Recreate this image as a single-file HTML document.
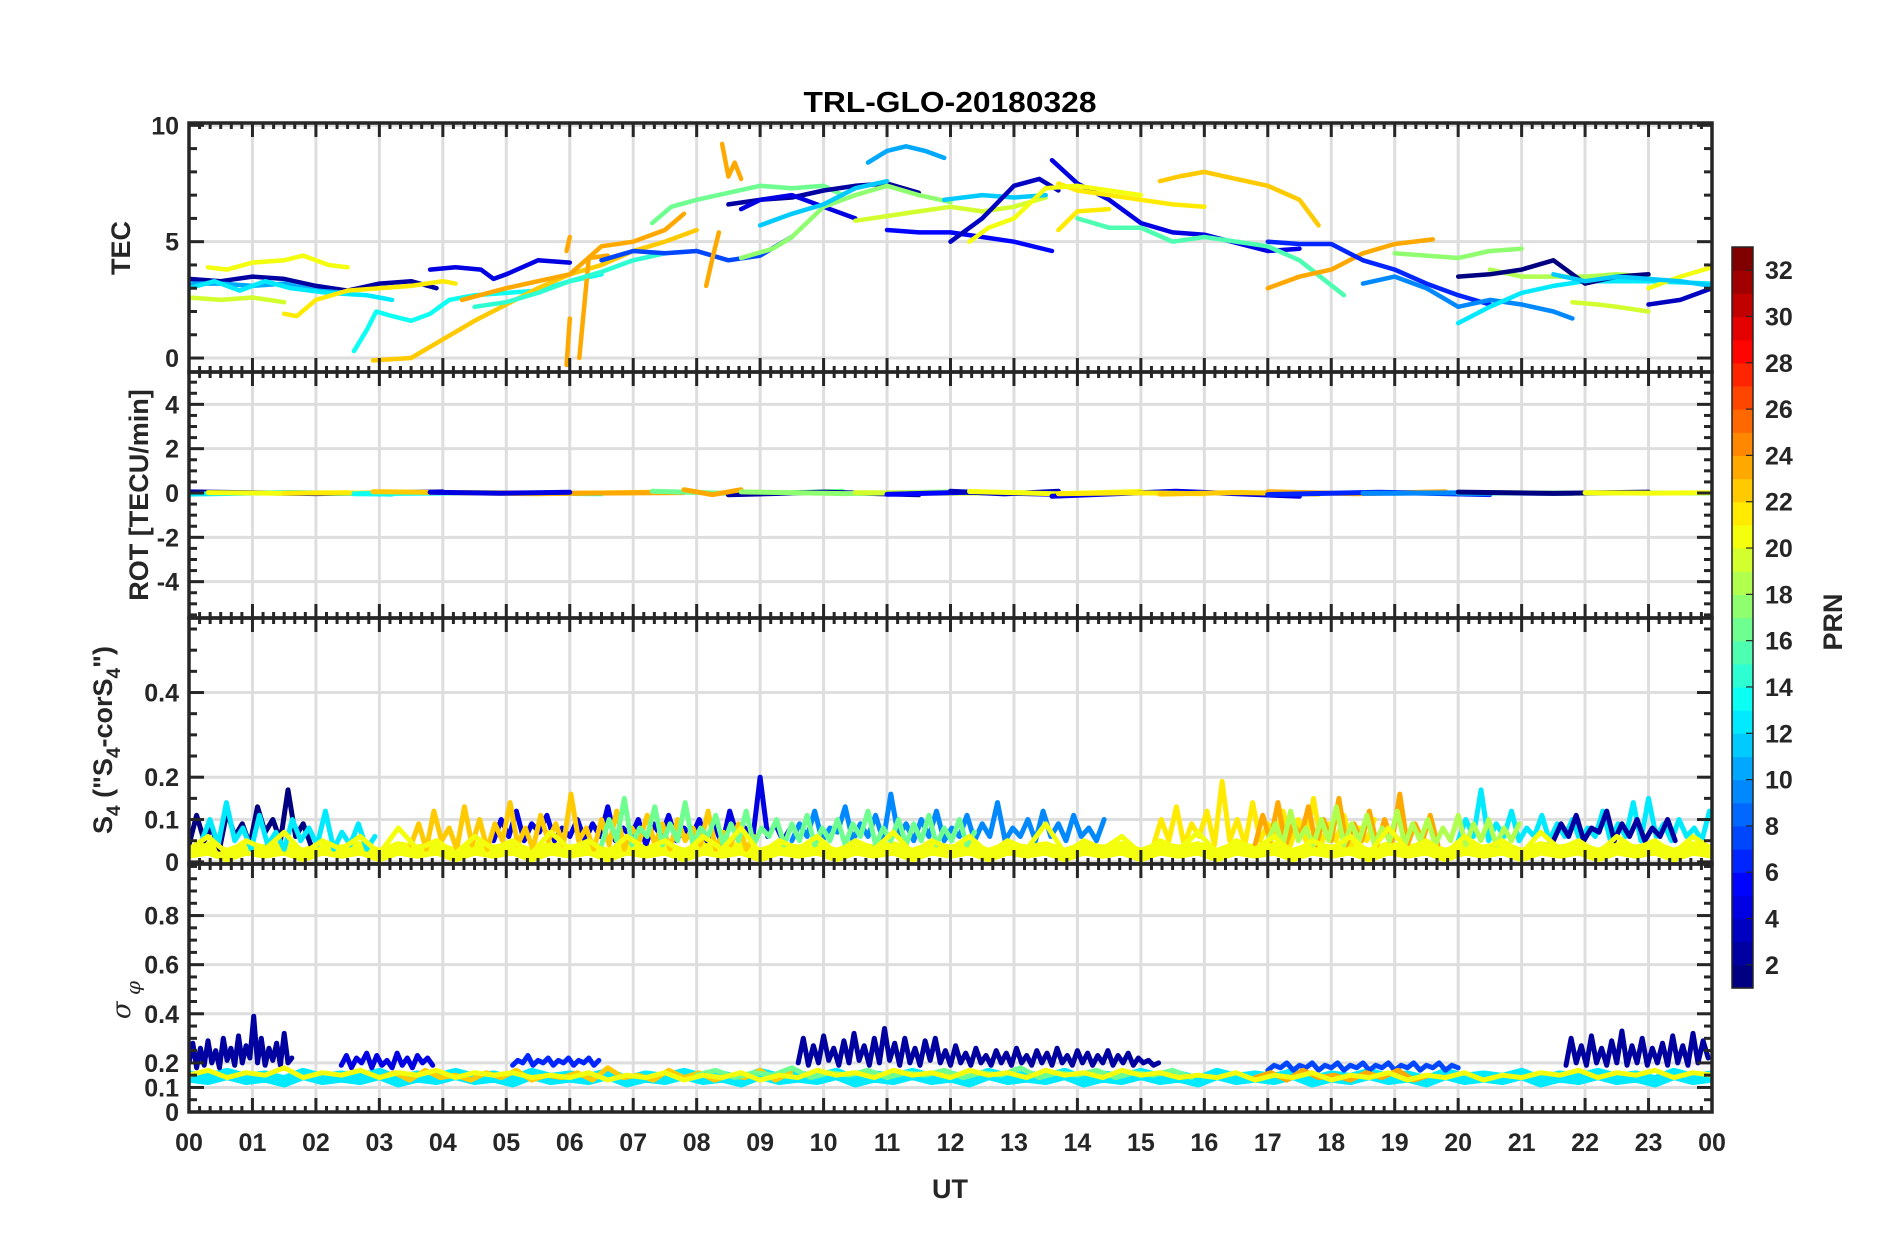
<!DOCTYPE html>
<html><head><meta charset="utf-8"><title>TRL-GLO-20180328</title>
<style>
html,body{margin:0;padding:0;background:#fff;}
svg{display:block;font-family:"Liberation Sans",Arial,sans-serif;}
</style></head>
<body>
<svg id="chart" width="1902" height="1236" viewBox="0 0 1902 1236" xmlns="http://www.w3.org/2000/svg">
<rect width="1902" height="1236" fill="#fff"/>
<text x="950" y="112" text-anchor="middle" font-size="29" font-weight="bold" fill="#000" textLength="293" lengthAdjust="spacingAndGlyphs">TRL-GLO-20180328</text>
<g id="grids"></g>
<g id="series"></g>
<g id="axes"></g>
<g id="labels"></g>
<g id="cbar"></g>
</svg>
<script>
// ---------- data ----------
const hourTicks = ["00","01","02","03","04","05","06","07","08","09","10","11","12","13","14","15","16","17","18","19","20","21","22","23","00"];
const tecTicks = [0,5,10];
const rotTicks = [-4,-2,0,2,4];
const s4Ticks = [0,0.1,0.2,0.4];
const sigTicks = [0,0.1,0.2,0.4,0.6,0.8];
const cbarTicks = [2,4,6,8,10,12,14,16,18,20,22,24,26,28,30,32];

// TEC tracks: [prn, [[hour, tec], ...]]
const tecTracks = [
 [2,[[0,3.4],[0.5,3.3],[1,3.5],[1.5,3.4],[2,3.1],[2.5,2.9],[3,3.2],[3.5,3.3],[3.9,3.0]]],
 [10,[[0,3.2],[0.5,3.2],[1,3.1],[1.5,3.2],[2,2.9],[2.5,2.8]]],
 [12,[[0,3.0],[0.4,3.3],[0.8,2.9],[1.2,3.3],[1.6,3.0],[2.2,2.8],[2.8,2.7],[3.2,2.5]]],
 [20,[[0.3,3.9],[0.6,3.8],[1,4.1],[1.5,4.2],[1.8,4.4],[2.2,4.0],[2.5,3.9]]],
 [19,[[0,2.6],[0.5,2.5],[1,2.6],[1.5,2.4]]],
 [21,[[1.5,1.9],[1.7,1.8],[2,2.5],[2.5,2.9],[3,3.0],[3.5,3.1],[4,3.3],[4.2,3.2]]],
 [4,[[3.8,3.8],[4.2,3.9],[4.6,3.8],[4.8,3.4],[5,3.6],[5.5,4.2],[6,4.1]]],
 [13,[[2.6,0.3],[2.8,1.2],[2.95,2.0],[3.2,1.8],[3.5,1.6],[3.8,1.9],[4.1,2.5],[4.5,2.7],[5,2.8],[5.5,2.9],[6,3.3],[6.5,3.6]]],
 [22,[[2.9,-0.1],[3.5,0.0],[4,0.8],[4.5,1.6],[5,2.3],[5.5,3.0],[6,3.6],[6.5,4.0],[7,4.6],[7.5,5.0],[8,5.5]]],
 [23,[[4.3,2.5],[5,3.0],[5.5,3.3],[6,3.6],[6.5,4.8],[7,5.0],[7.5,5.5],[7.8,6.2]]],
 [23,[[5.95,-0.3],[6.0,1.7]]],
 [23,[[6.15,0],[6.3,4.3],[6.6,4.4]]],
 [23,[[5.95,4.6],[6.0,5.2]]],
 [14,[[4.5,2.2],[5,2.4],[5.5,2.8],[6,3.3],[6.5,3.7],[7,4.2],[7.5,4.5]]],
 [7,[[6.5,4.2],[7,4.6],[7.5,4.5],[8,4.6],[8.5,4.2],[9,4.4],[9.5,5.2]]],
 [16,[[7.3,5.8],[7.6,6.5],[8,6.8],[8.5,7.1],[9,7.4],[9.5,7.3],[10,7.4],[10.3,7.0]]],
 [2,[[8.5,6.6],[9,6.8],[9.5,6.9],[10,7.2],[10.5,7.4],[11,7.5],[11.5,7.1]]],
 [4,[[8.7,6.4],[9,6.8],[9.5,7.0],[10,6.5],[10.5,6.0]]],
 [23,[[8.4,9.2],[8.5,7.8],[8.6,8.4],[8.7,7.7]]],
 [23,[[8.15,3.1],[8.25,4.3],[8.35,5.4]]],
 [10,[[10.7,8.4],[11,8.9],[11.3,9.1],[11.6,8.9],[11.9,8.6]]],
 [17,[[8.7,4.3],[9.2,4.7],[9.5,5.2],[10,6.5],[10.5,7.0],[11,7.4],[11.5,7.0],[12,6.7]]],
 [11,[[9,5.7],[9.5,6.2],[10,6.6],[10.5,7.3],[11,7.6]]],
 [19,[[10.5,5.9],[11,6.1],[11.5,6.3],[12,6.5],[12.5,6.3],[13,6.5],[13.5,6.9]]],
 [5,[[11,5.5],[11.5,5.4],[12,5.4],[12.5,5.2],[13,5.0],[13.6,4.6]]],
 [11,[[11.9,6.8],[12.5,7.0],[13,6.9],[13.5,7.0]]],
 [3,[[12,5.0],[12.5,6.0],[13,7.4],[13.4,7.7],[13.7,7.2]]],
 [4,[[13.6,8.5],[14,7.5],[14.5,6.8],[15,5.8],[15.5,5.4],[16,5.3],[17,4.6],[17.5,4.7]]],
 [21,[[13.7,7.5],[14,7.2],[14.5,7.0],[15,6.8],[15.5,6.6],[16,6.5]]],
 [20,[[12.3,5.0],[12.6,5.6],[13,6.0],[13.5,7.3],[14,7.4],[15,7.0]]],
 [21,[[13.7,5.5],[14,6.3],[14.5,6.4]]],
 [15,[[14,6.0],[14.5,5.6],[15,5.6],[15.5,5.0],[16,5.2],[17,4.8],[17.5,4.2],[18.2,2.7]]],
 [22,[[15.3,7.6],[15.6,7.8],[16,8.0],[16.5,7.7],[17,7.4],[17.5,6.8],[17.8,5.7]]],
 [23,[[17,3.0],[17.5,3.5],[18,3.8],[18.5,4.5],[19,4.9],[19.6,5.1]]],
 [6,[[17,5.0],[17.5,4.9],[18,4.9],[18.5,4.2],[19,3.8],[19.5,3.2],[20,2.7],[20.5,2.3]]],
 [9,[[18.5,3.2],[19,3.5],[19.5,3.0],[20,2.2],[20.5,2.5],[21,2.3],[21.5,2.0],[21.8,1.7]]],
 [12,[[20,1.5],[20.5,2.2],[21,2.8],[21.5,3.1],[22,3.3],[23,3.3],[24,3.2]]],
 [17,[[19,4.5],[19.5,4.4],[20,4.3],[20.5,4.6],[21,4.7]]],
 [18,[[20.5,3.8],[21,3.5],[21.5,3.5],[22,3.5],[22.5,3.6],[23,3.5]]],
 [19,[[21.8,2.4],[22.2,2.3],[22.5,2.2],[23,2.0]]],
 [1,[[20,3.5],[20.5,3.6],[21,3.8],[21.5,4.2],[22,3.2],[22.5,3.5],[23,3.6]]],
 [3,[[23.0,2.3],[23.5,2.5],[24,3.0]]],
 [20,[[23,3.0],[23.5,3.5],[24,3.9]]],
 [11,[[21.5,3.6],[22,3.3],[22.5,3.5],[23.5,3.3],[24,3.1]]]
];

// ROT: [prn, startHour, endHour, rotValue]
const rotSegs = [
 [2,0,4,0.05],[12,0,3.2,-0.05],[20,0.3,2.5,0.02],[21,1.5,4.2,0.0],[13,2.6,6.5,-0.03],
 [22,2.9,8,0.06],[23,4.3,7.8,0.02],[4,3.8,6,0.03],[16,7.3,10.3,0.08],[2,8.5,11.5,-0.08],
 [23,7.8,8.7,0.15],[17,8.7,12,0.05],[19,10.5,13.5,0.02],[5,11,13.6,-0.06],[3,12,13.7,0.08],
 [20,12.3,15,0.07],[4,13.6,17.5,-0.15],[21,13.7,16,-0.03],[22,15.3,17.8,-0.05],[23,17,19.8,0.06],
 [6,17,20.5,-0.07],[9,18.5,21.8,-0.02],[12,20,24,0.0],[18,20.5,23,0.02],[1,20,23,0.04],[20,22,24,0.01]
];

// S4 series: [prn, startHour, step, values]
const s4Navy1 = [0.04,0.11,0.05,0.08,0.03,0.12,0.06,0.09,0.04,0.13,0.07,0.1,0.05,0.17,0.06,0.09,0.04];
const s4Cyan1 = [0.05,0.1,0.04,0.14,0.05,0.08,0.03,0.11,0.04,0.07,0.03,0.1,0.05,0.08,0.04,0.12,0.03,0.07,0.04,0.09,0.03,0.06];
const s4Orange1 = [0.04,0.09,0.03,0.12,0.05,0.08,0.03,0.13,0.04,0.1,0.03,0.09,0.05,0.14,0.04,0.08,0.03,0.11,0.05,0.09,0.04,0.16,0.05,0.08,0.03,0.1,0.04,0.12,0.03,0.08,0.05,0.11,0.04,0.09,0.03,0.1,0.05,0.08,0.04,0.12,0.03,0.07,0.04,0.09,0.03,0.06];
const s4Blue1 = [0.05,0.1,0.06,0.12,0.05,0.09,0.07,0.11,0.05,0.08,0.06,0.1,0.05,0.09,0.06,0.13,0.05,0.08,0.06,0.1,0.04,0.09,0.06,0.11,0.05,0.08,0.06,0.1,0.05,0.09,0.04,0.12,0.06,0.08,0.05,0.2,0.06,0.09,0.05,0.08];
const s4Green1 = [0.04,0.1,0.05,0.15,0.04,0.08,0.06,0.13,0.04,0.09,0.05,0.14,0.04,0.08,0.06,0.11,0.04,0.09,0.05,0.12,0.04,0.08,0.06,0.1,0.04,0.09,0.05,0.11,0.04,0.08,0.05,0.1,0.04,0.09,0.06,0.12,0.04,0.08,0.05,0.1,0.04,0.09,0.05,0.11,0.04,0.08,0.05,0.1,0.04,0.07];
const s4LBlue1 = [0.05,0.09,0.06,0.12,0.05,0.08,0.07,0.13,0.05,0.09,0.06,0.11,0.05,0.16,0.06,0.09,0.05,0.1,0.06,0.12,0.05,0.08,0.06,0.11,0.05,0.09,0.06,0.14,0.05,0.08,0.06,0.1,0.05,0.12,0.06,0.09,0.05,0.11,0.06,0.08,0.05,0.1];
const s4Gold1 = [0.04,0.1,0.05,0.13,0.04,0.09,0.06,0.12,0.04,0.19,0.05,0.1,0.04,0.14,0.05,0.09,0.06,0.12,0.04,0.1,0.05,0.15,0.04,0.09,0.05,0.11,0.04,0.08,0.05,0.1];
const s4Orange2 = [0.04,0.11,0.05,0.14,0.04,0.09,0.06,0.13,0.04,0.1,0.05,0.15,0.04,0.09,0.05,0.12,0.04,0.1,0.05,0.16,0.04,0.09,0.05,0.11,0.04];
const s4YGreen1 = [0.05,0.09,0.04,0.12,0.05,0.08,0.04,0.1,0.05,0.13,0.04,0.09,0.05,0.11,0.04,0.08,0.05,0.12,0.04,0.09,0.05,0.1,0.04,0.08,0.05,0.11,0.04,0.09,0.05,0.1,0.04,0.08,0.05,0.09];
const s4Cyan2 = [0.05,0.1,0.06,0.17,0.05,0.09,0.06,0.12,0.05,0.08,0.06,0.11,0.05,0.09,0.06,0.1,0.05,0.08,0.06,0.12,0.05,0.09,0.06,0.14,0.05,0.15,0.06,0.09,0.05,0.1,0.06,0.08,0.05,0.12];
const s4Navy2 = [0.05,0.09,0.06,0.11,0.05,0.08,0.07,0.12,0.05,0.09,0.06,0.1,0.05,0.08,0.06,0.1,0.05];
const s4Yellow = [0.03,0.06,0.02,0.05,0.03,0.07,0.02,0.05,0.03,0.06,0.02,0.08,0.03,0.05,0.02,0.06,0.03,0.05,0.02,0.07,0.03,0.05,0.02,0.06,0.03,0.05,0.02,0.06,0.03,0.08,0.02,0.05,0.03,0.06,0.02,0.05,0.03,0.07,0.02,0.05,0.03,0.06,0.02,0.05,0.03,0.09,0.02,0.05,0.03,0.06,0.02,0.05,0.03,0.07,0.02,0.05,0.03,0.06,0.02,0.05,0.03,0.06,0.02,0.08,0.03,0.05,0.02,0.06,0.03,0.05,0.02,0.07,0.03,0.05,0.02,0.06,0.03,0.05,0.02,0.06,0.03];
const s4Series = [
 [1,0.0,0.12,s4Navy1],[12,0.2,0.13,s4Cyan1],[4,4.8,0.12,s4Blue1],[9,9.5,0.12,s4LBlue1],
 [12,20,0.12,s4Cyan2],[2,21.5,0.12,s4Navy2],[22,3.5,0.12,s4Orange1],[16,6.5,0.12,s4Green1],
 [21,15.2,0.12,s4Gold1],[23,16.8,0.12,s4Orange2],[18,17,0.12,s4YGreen1],[20,0,0.3,s4Yellow]
];

// Sigma-phi series: [prn, startHour, step, values]
const sigNavy1 = [0.2,0.28,0.18,0.26,0.19,0.29,0.2,0.25,0.18,0.3,0.21,0.26,0.19,0.31,0.2,0.27,0.22,0.39,0.2,0.3,0.19,0.26,0.21,0.28,0.19,0.32,0.2,0.22];
const sigBlue1 = [0.19,0.23,0.18,0.22,0.2,0.24,0.18,0.23,0.19,0.21,0.18,0.24,0.19,0.22,0.18,0.23,0.2,0.22,0.19];
const sigBlue2 = [0.19,0.21,0.2,0.23,0.19,0.21,0.2,0.22,0.19,0.21,0.2,0.22,0.19,0.21,0.2,0.22,0.19,0.21];
const sigNavy2 = [0.2,0.3,0.19,0.27,0.2,0.31,0.21,0.26,0.19,0.29,0.2,0.32,0.21,0.27,0.19,0.3,0.2,0.34,0.21,0.28,0.19,0.3,0.2,0.26,0.19,0.29,0.21,0.3,0.2,0.25,0.19,0.27,0.2,0.24,0.19,0.26,0.2,0.23,0.19,0.25,0.2,0.24,0.19,0.26,0.2,0.23,0.19,0.25,0.2,0.24,0.19,0.26,0.2,0.23,0.19,0.25,0.2,0.24,0.19,0.23,0.2,0.25,0.19,0.23,0.2,0.24,0.19,0.22,0.2,0.21,0.19,0.2];
const sigNavy3 = [0.19,0.3,0.2,0.27,0.19,0.31,0.2,0.26,0.19,0.29,0.2,0.33,0.19,0.27,0.2,0.3,0.19,0.26,0.2,0.28,0.19,0.31,0.2,0.27,0.19,0.32,0.2,0.29,0.22];
const sigBlue3 = [0.17,0.19,0.18,0.2,0.17,0.19,0.18,0.2,0.17,0.19,0.18,0.2,0.17,0.19,0.18,0.2,0.17,0.19,0.18,0.2,0.17,0.19,0.18,0.2,0.17,0.19,0.18,0.2,0.17,0.19,0.18];
const sigCyan = [0.13,0.12,0.14,0.12,0.13,0.11,0.14,0.12,0.13,0.12,0.14,0.11,0.13,0.12,0.14,0.12,0.13,0.11,0.14,0.12,0.13,0.12,0.14,0.11,0.13,0.12,0.14,0.12,0.13,0.11,0.14,0.12,0.13,0.12,0.14,0.11,0.13,0.12,0.14,0.12,0.13,0.11,0.14,0.12,0.13,0.12,0.14,0.11,0.13,0.12,0.14,0.12,0.13,0.11,0.14,0.12,0.13,0.12,0.14,0.11,0.13,0.12,0.14,0.12,0.13,0.11,0.14,0.12,0.13,0.12,0.14,0.11,0.13,0.12,0.14,0.12,0.13,0.11,0.14,0.12,0.13];
const sigOrange1 = [0.14,0.16,0.13,0.17,0.14,0.15,0.13,0.16,0.14,0.17,0.13,0.15,0.14,0.16,0.13,0.18,0.14,0.15,0.13,0.17,0.14,0.16,0.13,0.15,0.14,0.17,0.13,0.16];
const sigOrange2 = [0.14,0.16,0.13,0.17,0.14,0.15,0.13,0.16,0.14,0.17,0.13,0.15];
const sigGreen = [0.15,0.17,0.14,0.16,0.15,0.18,0.14,0.16,0.15,0.17,0.14,0.16,0.15,0.17,0.14,0.16,0.15,0.18,0.14,0.16,0.15,0.17,0.14,0.16,0.15,0.17,0.14];
const sigYellow = [0.15,0.17,0.14,0.16,0.15,0.18,0.14,0.16,0.15,0.17,0.14,0.16,0.15,0.17,0.14,0.16,0.15,0.16,0.14,0.15,0.14,0.16,0.13,0.15,0.14,0.16,0.13,0.15,0.14,0.16,0.13,0.15,0.14,0.17,0.15,0.16,0.14,0.17,0.15,0.16,0.14,0.17,0.15,0.16,0.14,0.17,0.15,0.16,0.14,0.17,0.15,0.16,0.14,0.15,0.14,0.16,0.13,0.15,0.14,0.16,0.13,0.15,0.14,0.16,0.13,0.15,0.14,0.16,0.13,0.15,0.14,0.16,0.15,0.17,0.14,0.16,0.15,0.17,0.14,0.16,0.15];
const sigSeries = [
 [2,0,0.06,sigNavy1],[4,2.4,0.08,sigBlue1],[6,5.1,0.08,sigBlue2],[2,9.6,0.08,sigNavy2],
 [2,21.7,0.08,sigNavy3],[7,17,0.1,sigBlue3],[12,0,0.3,sigCyan],[22,3,0.24,sigOrange1],
 [23,16.8,0.25,sigOrange2],[16,8,0.3,sigGreen],[20,0,0.3,sigYellow]
];

// ---------- layout ----------
const NS = "http://www.w3.org/2000/svg";
const X0 = 189, X1 = 1712;
const panels = [
 {name:"tec", top:123, bot:372, min:-0.6, max:10.1},
 {name:"rot", top:372, bot:618, min:-5.64, max:5.46},
 {name:"s4", top:618, bot:864, min:-0.005, max:0.576},
 {name:"sigma", top:864, bot:1112, min:0, max:1.01}
];
function xs(h){ return X0 + h*(X1-X0)/24; }
function ys(p,v){ return p.bot - (v-p.min)/(p.max-p.min)*(p.bot-p.top); }
function jet(prn){
 const t = (prn-1)/31;
 const c = v => Math.round(255*Math.max(0,Math.min(1,v)));
 return `rgb(${c(1.5-Math.abs(4*t-3))},${c(1.5-Math.abs(4*t-2))},${c(1.5-Math.abs(4*t-1))})`;
}
function mk(tag, attrs, parent){
 const e = document.createElementNS(NS, tag);
 for (const k in attrs) e.setAttribute(k, attrs[k]);
 parent.appendChild(e);
 return e;
}
const gGrid = document.getElementById("grids");
const gSer = document.getElementById("series");
const gAx = document.getElementById("axes");
const gLab = document.getElementById("labels");
const gCb = document.getElementById("cbar");

const defs = mk("defs", {}, document.getElementById("chart"));
panels.forEach((p,i)=>{
 const cp = mk("clipPath", {id:"clip"+i}, defs);
 mk("rect", {x:X0, y:p.top, width:X1-X0, height:p.bot-p.top}, cp);
});

const yTickSets = [
 {major:tecTicks, minorStep:1},
 {major:rotTicks, minorStep:0.5},
 {major:s4Ticks, minorStep:0.05},
 {major:sigTicks, minorStep:0.05}
];

panels.forEach((p,i)=>{
 for (let h=1; h<24; h++){
  const l = mk("line", {x1:xs(h), x2:xs(h), y1:p.top, y2:p.bot, stroke:"#dedede", "stroke-width":3}, gGrid);
  
  
 }
 yTickSets[i].major.forEach(v=>{
  const l = mk("line", {x1:X0, x2:X1, y1:ys(p,v), y2:ys(p,v), stroke:"#dedede", "stroke-width":3}, gGrid);
  
  
 });
});

function poly(pts, prn, width, clipIdx, name){
 const el = mk("polyline", {points: pts.map(q=>q[0].toFixed(1)+","+q[1].toFixed(1)).join(" "), fill:"none", stroke:jet(prn), "stroke-width":width, "stroke-linejoin":"round", "stroke-linecap":"round", "clip-path":"url(#clip"+clipIdx+")"}, gSer);
 
 
}
// TEC
tecTracks.forEach(tr=>{
 poly(tr[1].map(q=>[xs(q[0]), ys(panels[0], q[1])]), tr[0], 4.5, 0, 'tec-line-prn'+tr[0]);
});
// ROT
rotSegs.forEach(s=>{
 const p = panels[1];
 poly([[xs(s[1]), ys(p,s[3])],[xs((s[1]+s[2])/2), ys(p,s[3]*-0.5)],[xs(s[2]), ys(p,s[3])]], s[0], 5, 1, 'rot-line-prn'+s[0]);
});
// S4 base band
{
 const p = panels[2];
 poly(s4Yellow.map((v,k)=>[xs(k*0.3), ys(p, Math.min(v,0.04)*0.8)]), 20, 14, 2, 's4-base-band');
}
// S4
s4Series.forEach(s=>{
 const p = panels[2];
 poly(s[3].map((v,k)=>[xs(s[1]+k*s[2]), ys(p,v)]), s[0], 5, 2, 's4-line-prn'+s[0]);
});
// sigma bands
{
 const p = panels[3];
 poly(sigCyan.map((v,k)=>[xs(k*0.3), ys(p,v+0.015)]), 12, 12, 3, 'sigma-base-band');
}
sigSeries.forEach(s=>{
 const p = panels[3];
 poly(s[3].map((v,k)=>[xs(s[1]+k*s[2]), ys(p,v)]), s[0], 5, 3, 'sigma-line-prn'+s[0]);
});

// axes boxes & ticks
const AX = "#262626";
panels.forEach((p,i)=>{
 const r = mk("rect", {x:X0, y:p.top, width:X1-X0, height:p.bot-p.top, fill:"none", stroke:AX, "stroke-width":3.5}, gAx);
 
 
 for (let m=0; m<=144; m++){
  const x = xs(m/6), major = (m%6===0), L = major?14:6;
  mk("line", {x1:x, x2:x, y1:p.top, y2:p.top+L, stroke:AX, "stroke-width":3}, gAx);
  mk("line", {x1:x, x2:x, y1:p.bot, y2:p.bot-L, stroke:AX, "stroke-width":3}, gAx);
 }
 const ts = yTickSets[i];
 const n0 = Math.ceil(p.min/ts.minorStep-1e-6), n1 = Math.floor(p.max/ts.minorStep+1e-6);
 for (let n=n0; n<=n1; n++){
  const v = n*ts.minorStep, y = ys(p,v);
  if (y < p.top+2 || y > p.bot-2) continue;
  const major = ts.major.some(t=>Math.abs(t-v)<1e-6), L = major?15:8;
  mk("line", {x1:X0, x2:X0+L, y1:y, y2:y, stroke:AX, "stroke-width":3}, gAx);
  mk("line", {x1:X1, x2:X1-L, y1:y, y2:y, stroke:AX, "stroke-width":3}, gAx);
 }
 ts.major.forEach(v=>{
  const t = mk("text", {x:179, y:ys(p,v)+9, "text-anchor":"end", "font-size":25, "font-weight":"bold", fill:AX}, gLab);
  t.textContent = String(v);
  
  
 });
});
hourTicks.forEach((lab,k)=>{
 const t = mk("text", {x:xs(k), y:1151, "text-anchor":"middle", "font-size":25, "font-weight":"bold", fill:AX}, gLab);
 t.textContent = lab;
 
 
});

// colorbar
const CB = {x:1732, w:21, top:247, bot:988, min:1, max:33};
function cby(v){ return CB.bot - (v-CB.min)/(CB.max-CB.min)*(CB.bot-CB.top); }
for (let prn=1; prn<=32; prn++){
 const r = mk("rect", {x:CB.x, y:cby(prn+1), width:CB.w, height:cby(prn)-cby(prn+1)+0.6, fill:jet(prn)}, gCb);
 
 
}
mk("rect", {x:CB.x, y:CB.top, width:CB.w, height:CB.bot-CB.top, fill:"none", stroke:AX, "stroke-width":1.5}, gCb);
cbarTicks.forEach(v=>{
 mk("line", {x1:CB.x+CB.w-7, x2:CB.x+CB.w, y1:cby(v), y2:cby(v), stroke:AX, "stroke-width":1.2}, gCb);
 const t = mk("text", {x:1765, y:cby(v)+9, "font-size":25, "font-weight":"bold", fill:AX}, gCb);
 t.textContent = String(v);
 
 
});
</script>
<script>
(function(){
 const NS="http://www.w3.org/2000/svg", g=document.getElementById("labels");
 function lab(txt, x, y, rot, name, size, extra){
  const t=document.createElementNS(NS,"text");
  t.setAttribute("x",x); t.setAttribute("y",y);
  t.setAttribute("text-anchor","middle"); t.setAttribute("font-size",size);
  t.setAttribute("font-weight","bold"); t.setAttribute("fill","#262626");
  if(rot) t.setAttribute("transform",`rotate(-90 ${x} ${y})`);
  if(extra) for(const k in extra) t.setAttribute(k,extra[k]);
  t.innerHTML=txt;
  
  
  g.appendChild(t);
 }
 lab("TEC", 130, 248, true, 'tec-y-axis-title', 27);
 lab("ROT [TECU/min]", 148, 495, true, 'rot-y-axis-title', 27);
 lab('S<tspan font-size="19" dy="8">4</tspan><tspan dy="-8"> ("S</tspan><tspan font-size="19" dy="8">4</tspan><tspan dy="-8">-corS</tspan><tspan font-size="19" dy="8">4</tspan><tspan dy="-8">")</tspan>', 112, 740, true, 's4-y-axis-title', 27);
 lab('σ<tspan font-size="20" dy="10" font-style="italic"> φ</tspan>', 130, 1000, true, 'sigma-y-axis-title', 26, {"font-weight":"normal","font-style":"italic","font-family":"DejaVu Serif, serif"});
 lab("UT", 950, 1198, false, 'x-axis-title', 27);
 lab("PRN", 1842, 622, true, 'colorbar-title', 27);
})();
</script>
</body></html>
